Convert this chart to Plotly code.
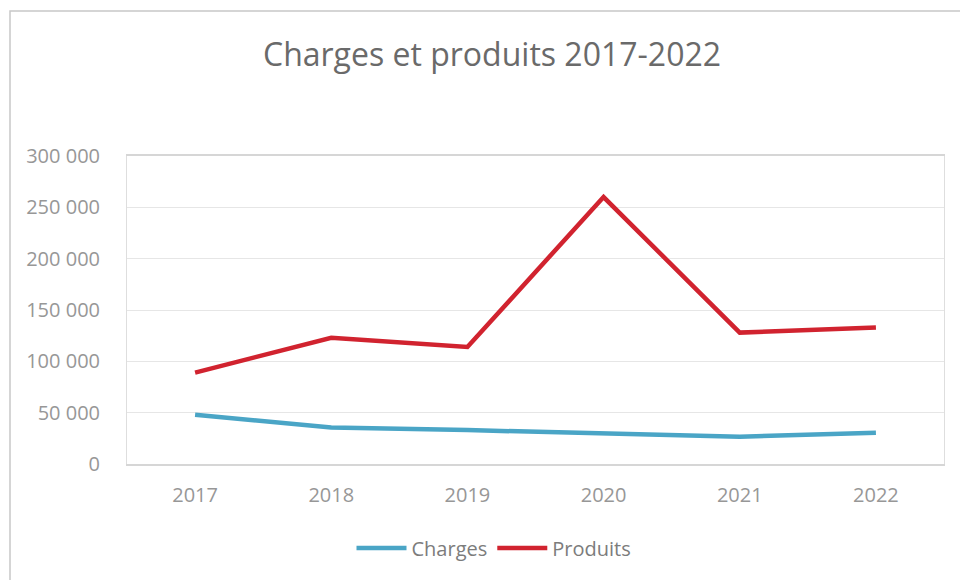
import plotly.graph_objects as go

years = ["2017", "2018", "2019", "2020", "2021", "2022"]
charges = [48000, 35500, 33000, 29500, 26500, 30500]
produits = [89000, 123000, 114000, 260000, 128000, 133000]
y_ticks = [0, 50000, 100000, 150000, 200000, 250000, 300000]
y_tick_labels = ["0", "50 000", "100 000", "150 000", "200 000", "250 000", "300 000"]

W, H = 960, 580
L, R, T, B = 127, 16, 156, 116
pw, ph = W - L - R, H - T - B

def px(x):
    return (x - L) / pw

def py(y):
    return (H - B - y) / ph

fig = go.Figure()
fig.add_trace(go.Scatter(x=years, y=charges, mode="lines", name="Charges",
                         line=dict(color="#4aa5c6", width=4.5)))
fig.add_trace(go.Scatter(x=years, y=produits, mode="lines", name="Produits",
                         line=dict(color="#d1232f", width=4.5)))

fig.update_layout(
    width=W, height=H,
    margin=dict(l=L, r=R, t=T, b=B),
    paper_bgcolor="white", plot_bgcolor="white",
    font=dict(family="Open Sans, Lato, sans-serif", color="#959595", size=20),
    title=dict(text="Charges et produits 2017-2022", x=492 / W, xanchor="center",
               y=1 - 55 / H, yanchor="middle",
               font=dict(size=32, color="#6a6a6a", family="Open Sans, sans-serif")),
    showlegend=True,
    legend=dict(orientation="h", x=px(494), xanchor="center", y=py(548), yanchor="middle",
                font=dict(size=20, color="#7c7c7c"), itemwidth=50),
    xaxis=dict(showgrid=False, showline=True, linecolor="#d6d6d6", linewidth=1.5,
               mirror=True, ticks="", tickfont=dict(size=20, color="#979797"),
               range=[-0.5, 5.5], ticklabelstandoff=12),
    yaxis=dict(range=[0, 300000], tickvals=y_ticks, ticktext=y_tick_labels,
               showgrid=True, gridcolor="#e6e6e6", gridwidth=1,
               showline=True, linecolor="#dedede", mirror=True, zeroline=False,
               ticks="", tickfont=dict(size=20, color="#979797"), ticklabelstandoff=22),
)

fig.add_shape(type="rect", xref="paper", yref="paper",
              x0=px(10), x1=px(975), y0=py(600), y1=py(11),
              line=dict(color="#c8c8c8", width=1.5), fillcolor="rgba(0,0,0,0)", layer="below")

fig.write_html("out.html", config={"displayModeBar": False},
               post_script="document.body.style.margin='0';document.body.style.padding='0';")
